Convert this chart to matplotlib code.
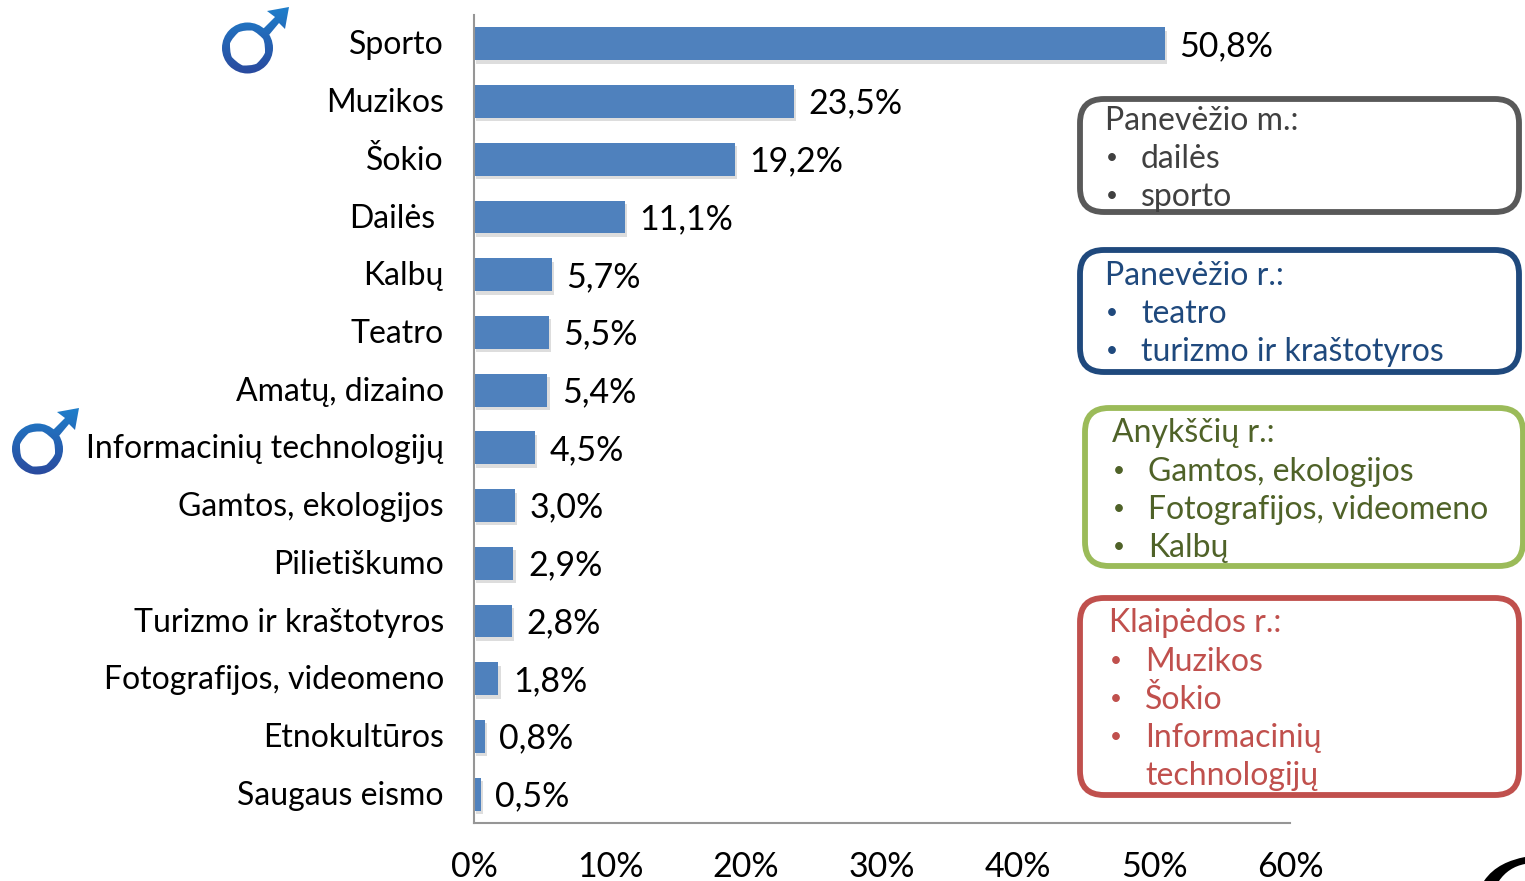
import matplotlib
matplotlib.use("Agg")
import matplotlib.pyplot as plt
import matplotlib.patheffects as pe
import numpy as np
from matplotlib.patches import FancyBboxPatch, PathPatch
from matplotlib.path import Path
from matplotlib.colors import LinearSegmentedColormap
from matplotlib.transforms import ScaledTranslation

plt.rcParams['font.family'] = ['Lato', 'DejaVu Sans']

categories = ["Sporto", "Muzikos", "Šokio", "Dailės", "Kalbų", "Teatro", "Amatų, dizaino",
              "Informacinių technologijų", "Gamtos, ekologijos", "Pilietiškumo",
              "Turizmo ir kraštotyros", "Fotografijos, videomeno", "Etnokultūros", "Saugaus eismo"]
values = [50.8, 23.5, 19.2, 11.1, 5.7, 5.5, 5.4, 4.5, 3.0, 2.9, 2.8, 1.8, 0.8, 0.5]
xticks = [0, 10, 20, 30, 40, 50, 60]

box1_lines = ["Panevėžio m.:", "dailės", "sporto"]
box2_lines = ["Panevėžio r.:", "teatro", "turizmo ir kraštotyros"]
box3_lines = ["Anykščių r.:", "Gamtos, ekologijos", "Fotografijos, videomeno", "Kalbų"]
box4_lines = ["Klaipėdos r.:", "Muzikos", "Šokio", "Informacinių", "technologijų"]

W, H = 1525, 881
FS = 23
FS_NUM = 24.5
fig = plt.figure(figsize=(W / 100, H / 100), dpi=100)
ax = fig.add_axes([474 / W, 1 - 823 / H, (1290 - 474) / W, (823 - 15) / H])

y = np.arange(len(values))
bars = ax.barh(y, values, height=0.57, color="#4F81BD", edgecolor="none",
               path_effects=[pe.SimplePatchShadow(offset=(1.5, -2.5), alpha=0.2, shadow_rgbFace="#555555"), pe.Normal()])
ax.set_xlim(0, 60)
ax.set_ylim(13.5, -0.5)

ax.set_yticks(y)
ax.set_yticklabels(categories, fontsize=FS)
ax.set_xticks(xticks)
ax.set_xticklabels([f"{t}%" for t in xticks], fontsize=FS_NUM)
ax.tick_params(axis="y", length=0, pad=21)
ax.tick_params(axis="x", length=0, pad=20.5)
for s in ["top", "right"]:
    ax.spines[s].set_visible(False)
for s in ["left", "bottom"]:
    ax.spines[s].set_color("#969696")
    ax.spines[s].set_linewidth(1.5)

# nudge the category labels; Dailės sits a bit left of the others
for i, tick in enumerate(ax.yaxis.get_major_ticks()):
    lab = tick.label1
    dx = -0.10 if categories[i] == "Dailės" else -0.01
    lab.set_transform(lab.get_transform() + ScaledTranslation(dx, 0.015, fig.dpi_scale_trans))

for i, v in enumerate(values):
    ax.annotate(f"{v:.1f}%".replace(".", ","), (v, i), xytext=(10.5, -1.5),
                textcoords="offset points", ha="left", va="center", fontsize=FS_NUM)

# overlay in pixel coordinates for the boxes and icons
ov = fig.add_axes([0, 0, 1, 1], facecolor="none")
ov.set_xlim(0, W)
ov.set_ylim(H, 0)
ov.axis("off")


def text_box(x0, y0, x1, y1, edge, color, tx, lines, ys):
    ov.add_patch(FancyBboxPatch((x0 + 20, y0 + 20), x1 - x0 - 40, y1 - y0 - 40,
                                boxstyle="round,pad=20,rounding_size=24",
                                fc="none", ec=edge, lw=4.2))
    ov.text(tx, ys[0], lines[0], color=color, fontsize=FS, va="baseline")
    for line, yy in zip(lines[1:], ys[1:]):
        # last line of the red box continues the item above it
        if line != "technologijų":
            ov.text(tx + 1, yy - 4, "•", color=color, fontsize=15, va="baseline")
        ov.text(tx + 36, yy, line, color=color, fontsize=FS, va="baseline")


text_box(1080, 99, 1519, 212, "#595959", "#404040", 1105, box1_lines, [130, 168, 206])
text_box(1080, 250, 1519, 372, "#1F497D", "#1F497D", 1105, box2_lines, [285, 323, 361])
text_box(1085, 408, 1523, 566, "#9BBB59", "#4F6228", 1112, box3_lines, [442, 481, 519, 557])
text_box(1080, 598, 1519, 795, "#C0504D", "#C0504D", 1109, box4_lines, [632, 671, 709, 747, 785])


def male_icon(dx, dy):
    # ring and arrow filled with a top to bottom blue gradient
    def circle(cx, cy, r):
        c = Path.unit_circle()
        return Path(c.vertices * r + [cx, cy], c.codes)
    ring_out = circle(247.5 + dx, 48 + dy, 25.5)
    ring_in = circle(247.5 + dx, 48 + dy, 17.5)
    ring_in = Path(ring_in.vertices[::-1], ring_in.codes)
    arrow = Path(np.array([[263, 29], [275, 17], [267, 11], [289, 7], [285, 29], [279, 23], [269, 35], [263, 29]])
                 + [dx, dy], closed=True)
    cm = LinearSegmentedColormap.from_list("m", ["#1f7fcb", "#2a4a9e"])
    grad = np.linspace(0, 1, 60).reshape(-1, 1)
    for p in [Path.make_compound_path(ring_out, ring_in), arrow]:
        patch = PathPatch(p, fc="none", ec="none", transform=ov.transData)
        ov.add_patch(patch)
        im = ov.imshow(grad, extent=[222 + dx, 290 + dx, 74 + dy, 6 + dy], aspect="auto", cmap=cm, zorder=3)
        im.set_clip_path(patch)
    ov.set_xlim(0, W)
    ov.set_ylim(H, 0)


male_icon(0, 0)
male_icon(-210, 401)

# piece of a black shape cut off by the bottom right corner
corner = Path([(1484, 881), (1494, 866), (1510, 860), (1525, 857), (1525, 864), (1514, 866), (1505, 872), (1499, 881), (1484, 881)],
              [Path.MOVETO, Path.CURVE4, Path.CURVE4, Path.CURVE4, Path.LINETO, Path.CURVE4, Path.CURVE4, Path.CURVE4, Path.CLOSEPOLY])
ov.add_patch(PathPatch(corner, fc="black", ec="none"))

fig.savefig("out.png", dpi=100)
